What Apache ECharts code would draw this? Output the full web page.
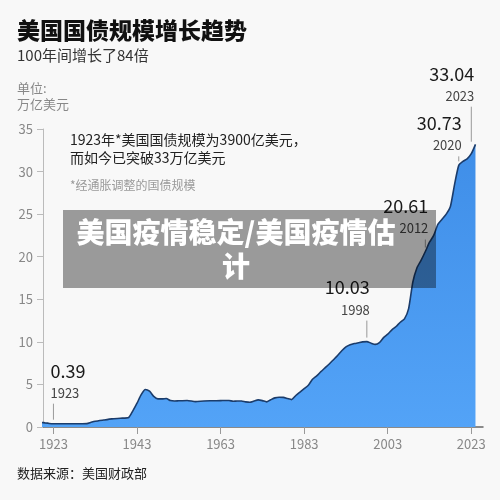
<!DOCTYPE html>
<html>
<head>
<meta charset="utf-8">
<script src="https://cdn.jsdelivr.net/npm/echarts@6/dist/echarts.min.js"></script>
<style>
html,body{margin:0;padding:0;background:#f8f8f8;}
#c{width:500px;height:500px;}
</style>
</head>
<body>
<div id="c"></div>
<script>
// ---- data ----
var years = [1920,1921,1922,1923,1925,1928,1931,1932,1933,1935,1937,1939,1941,1942,1943,1944,1945,1946,1947,1948,1949,1950,1951,1952,1953,1955,1957,1959,1961,1963,1965,1966,1967,1968,1969,1970,1971,1972,1973,1974,1975,1976,1977,1978,1979,1980,1981,1982,1983,1984,1985,1986,1987,1988,1989,1990,1991,1992,1993,1994,1995,1996,1997,1998,1999,2000,2001,2002,2003,2004,2005,2006,2007,2008,2009,2010,2011,2012,2013,2014,2015,2016,2017,2018,2019,2020,2021,2022,2023,2024];
var debt  = [0.55,0.48,0.42,0.39,0.38,0.38,0.40,0.55,0.68,0.82,0.95,1.03,1.12,1.9,2.8,3.8,4.4,4.2,3.6,3.3,3.3,3.35,3.1,3.05,3.08,3.12,2.98,3.06,3.08,3.1,3.12,3.02,3.06,3.05,2.95,2.9,3.05,3.18,3.1,2.95,3.2,3.42,3.5,3.48,3.35,3.22,3.7,4.1,4.5,4.9,5.6,6.0,6.5,6.95,7.4,7.9,8.4,8.95,9.4,9.65,9.8,9.9,10.0,10.03,9.85,9.7,9.9,10.5,10.9,11.4,11.8,12.3,12.7,13.9,17.0,18.7,19.6,20.61,21.7,22.5,23.8,24.4,25.0,25.9,28.5,30.73,31.2,31.5,32.1,33.2];
var xTickYears = [1923,1943,1963,1983,2003,2023];
var annYears  = [1923,1998,2012,2020,2023];
var annValues = [0.39,10.03,20.61,30.73,33.04];
var annLabels = ['0.39','10.03','20.61','30.73','33.04'];

// ---- styles for annotations ----
var annStemLen = [16,17,8,5,35];
var annAlign   = ['left','right','right','right','right'];

var FONT = '"Noto Sans CJK SC","Noto Sans",sans-serif';
var chart = echarts.init(document.getElementById('c'), null, {renderer:'canvas'});

var lineData = years.map(function(y,i){return [y, debt[i]];});
var annData = annYears.map(function(y,i){return [y, annValues[i]];});

chart.setOption({
  backgroundColor:'#f8f8f8',
  animation:false,
  grid:{left:43,right:17,top:129,bottom:73},
  xAxis:{
    type:'value', min:1920.5, max:2025.8,
    axisLine:{lineStyle:{color:'#666',width:1.5}},
    axisTick:{show:true,length:7,customValues:xTickYears,lineStyle:{color:'#999'}},
    axisLabel:{customValues:xTickYears,color:'#888',fontSize:13,margin:11,fontFamily:FONT,formatter:function(v){return String(v);}},
    splitLine:{show:false}
  },
  yAxis:{
    type:'value', min:0, max:35, interval:5,
    axisLine:{show:true,lineStyle:{color:'#bbb'}},
    axisTick:{show:true,length:6,lineStyle:{color:'#bbb'}},
    axisLabel:{color:'#888',fontSize:13,margin:10,fontFamily:FONT},
    splitLine:{show:false}
  },
  graphic:[
    {type:'text',left:17,top:19,style:{text:'美国国债规模增长趋势',font:'900 23px '+FONT,fill:'#111'}},
    {type:'text',left:17,top:48,style:{text:'100年间增长了84倍',font:'15px '+FONT,fill:'#333'}},
    {type:'text',left:17,top:80,style:{text:'单位:\n万亿美元',font:'13px '+FONT,fill:'#888',lineHeight:16}},
    {type:'text',left:70,top:131,style:{text:'1923年*美国国债规模为3900亿美元，\n而如今已突破33万亿美元',font:'14px '+FONT,fill:'#222',lineHeight:18}},
    {type:'text',left:70,top:179,style:{text:'*经通胀调整的国债规模',font:'12px '+FONT,fill:'#999'}},
    {type:'text',left:17,top:467,style:{text:'数据来源：美国财政部',font:'13px '+FONT,fill:'#222'}},
    {type:'rect',z:100,shape:{x:63,y:210,width:373,height:78},style:{fill:'rgba(0,0,0,0.38)'}},
    {type:'text',z:101,x:236,y:249,style:{text:'美国疫情稳定/美国疫情估\n计',font:'900 28px '+FONT,fill:'#fff',align:'center',verticalAlign:'middle',lineHeight:34}}
  ],
  series:[
    {
      type:'line', data:lineData, showSymbol:false, smooth:0.2, clip:true,
      lineStyle:{color:'#1b3c6b',width:1.6},
      areaStyle:{opacity:1,color:new echarts.graphic.LinearGradient(0,0,0,1,[{offset:0,color:'#3f8ee8'},{offset:1,color:'#53a3f7'}])},
      z:2
    },
    {
      type:'custom', data:annData, z:5, clip:false,
      renderItem:function(params, api){
        var i = params.dataIndex;
        var p = api.coord([api.value(0), api.value(1)]);
        var x = p[0], yEnd = p[1]-4, yTop = yEnd - annStemLen[i];
        var al = annAlign[i];
        var tx = al==='left' ? x-3 : x+3;
        return {type:'group',children:[
          {type:'line',shape:{x1:x,y1:yTop,x2:x,y2:yEnd},style:{stroke:'#999',lineWidth:1}},
          {type:'text',style:{text:String(annYears[i]),x:tx,y:yTop-11,align:al,verticalAlign:'middle',font:'13px '+FONT,fill:'#444'}},
          {type:'text',style:{text:annLabels[i],x:tx,y:yTop-33,align:al,verticalAlign:'middle',font:'18px '+FONT,fill:'#1a1a1a'}}
        ]};
      }
    }
  ]
});
</script>
</body>
</html>
